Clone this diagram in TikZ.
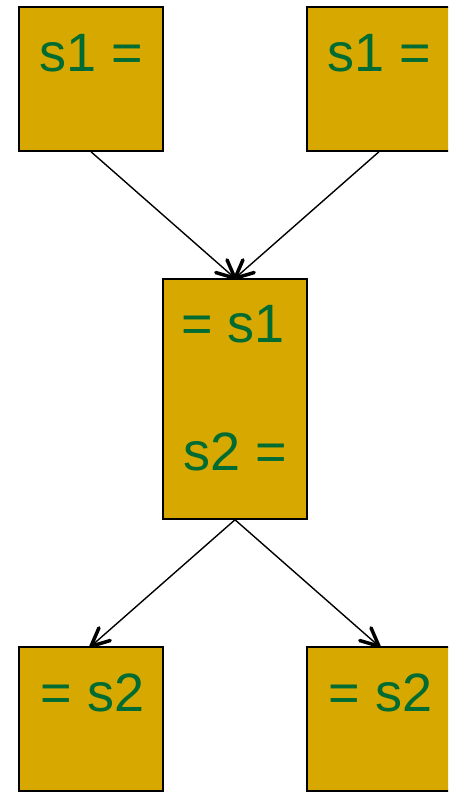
\documentclass[tikz,border=0pt]{standalone}
\usepackage{fontspec}
\setmainfont{Liberation Sans}
\definecolor{boxfill}{RGB}{214,168,0}
\definecolor{txtgreen}{RGB}{0,107,51}
\begin{document}
\begin{tikzpicture}[x=1pt,y=-1pt,
  box/.style={draw=black,line width=1.5pt,fill=boxfill,inner sep=0pt,minimum width=144pt},
  lbl/.style={text=txtgreen,font=\fontsize{54}{64}\selectfont,anchor=base,inner sep=0pt},
  conn/.style={line width=1.4pt},
  barb/.style={draw=black,line width=3.5pt,line cap=round,line join=round}]
\useasboundingbox (0,0) rectangle (448,792);
\clip (0,0) rectangle (448,792);
\node[box,minimum height=144pt] (tl) at (91,79) {};
\node[box,minimum height=144pt] (tr) at (379,79) {};
\node[box,minimum height=240pt] (mid) at (235,399) {};
\node[box,minimum height=144pt] (bl) at (91,719) {};
\node[box,minimum height=144pt] (br) at (379,719) {};
\node[lbl] (tlt) at (91.5,71) {s1 =};
\node[lbl] (trt) at (379.5,71) {s1 =};
\node[lbl] (midt1) at (233,342) {= s1};
\node[lbl] (midt2) at (235.5,470) {s2 =};
\node[lbl] (blt) at (92.5,711) {= s2};
\node[lbl] (brt) at (380.5,711) {= s2};
\draw[conn] (tl.south) -- (mid.north);
\draw[conn] (tr.south) -- (mid.north);
\draw[conn] (mid.south) -- (bl.north);
\draw[conn] (mid.south) -- (br.north);
% open barbs (canvas angles, y up)
\draw[barb] (mid.north) ++(113.4:20pt) -- (mid.north) -- ++(163.4:20pt);
\draw[barb] (mid.north) ++(66.6:20pt) -- (mid.north) -- ++(16.6:20pt);
\draw[barb] (bl.north) ++(66.6:20pt) -- (bl.north) -- ++(16.6:20pt);
\draw[barb] (br.north) ++(113.4:20pt) -- (br.north) -- ++(163.4:20pt);
\end{tikzpicture}
\end{document}
